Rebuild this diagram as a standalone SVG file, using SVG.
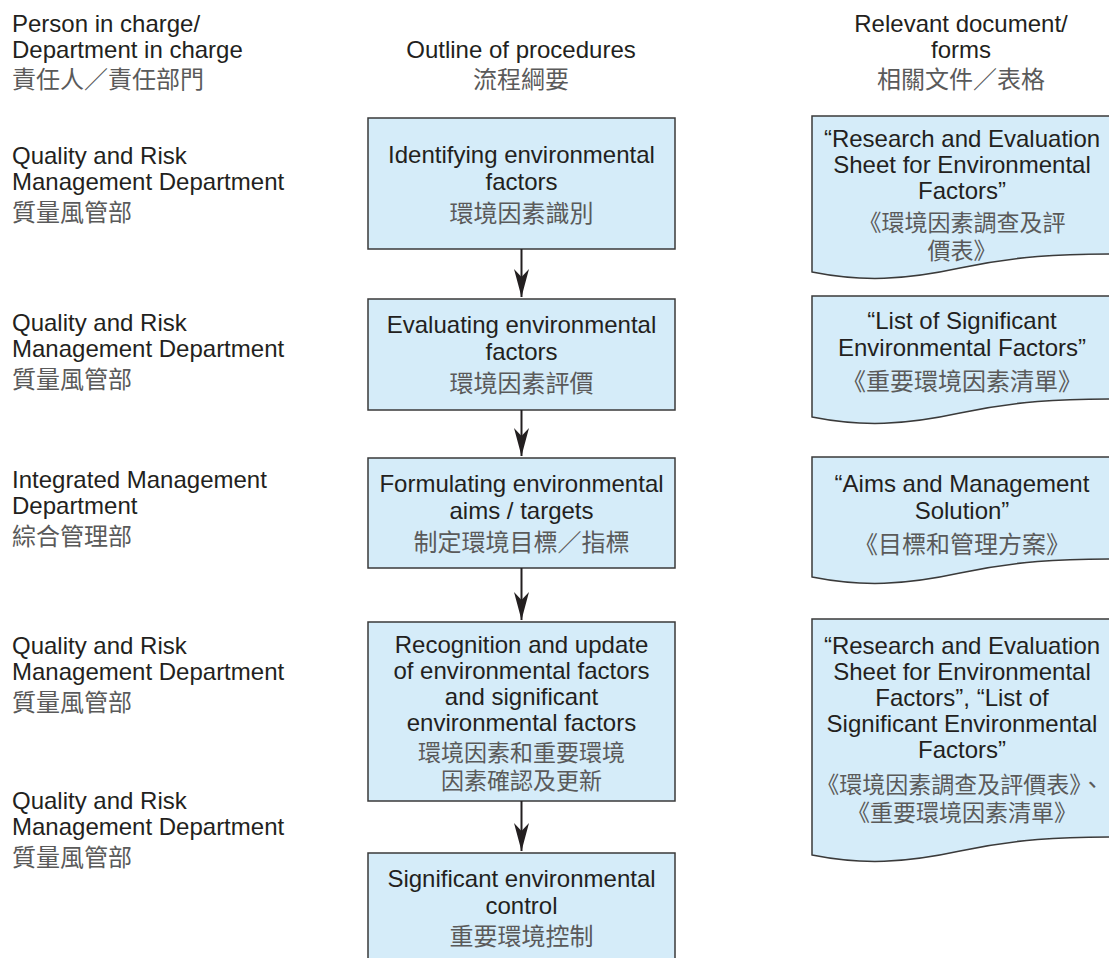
<svg xmlns="http://www.w3.org/2000/svg" width="1109" height="958" viewBox="0 0 1109 958">
  <style>
    .en { font-family: "Liberation Sans", Arial, sans-serif; font-size: 24px; fill: #231f20; }
    .zh { font-family: "Noto Sans CJK TC", "Noto Sans CJK SC", sans-serif; font-size: 24px; fill: #5a5a5a; }
    .zs { font-size: 23px; }
    .mid { text-anchor: middle; }
    .box { fill: #d5ecf9; stroke: #3a3a3a; stroke-width: 1.5; }
    .doc { fill: #d5ecf9; stroke: #3a3a3a; stroke-width: 1.5; }
    .flow { stroke: #231f20; stroke-width: 2; fill: none; marker-end: url(#arrow); }
  </style>
  <defs>
    <marker id="arrow" markerUnits="userSpaceOnUse" markerWidth="32" markerHeight="20" viewBox="-30 -10 32 20" refX="0" refY="0" orient="auto">
      <path d="M0,0 L-28,-7.5 L-20,0 L-28,7.5 Z" fill="#231f20"/>
    </marker>
  </defs>
  <rect width="1109" height="958" fill="#ffffff"/>

  <!-- column headings -->
  <g id="head-person">
    <text class="en" x="12" y="32">Person in charge/</text>
    <text class="en" x="12" y="58">Department in charge</text>
    <text class="zh" x="12" y="88">責任人／責任部門</text>
  </g>
  <g id="head-outline">
    <text class="en mid" x="521" y="58">Outline of procedures</text>
    <text class="zh mid" x="521" y="88">流程綱要</text>
  </g>
  <g id="head-docs">
    <text class="en mid" x="961" y="32">Relevant document/</text>
    <text class="en mid" x="961" y="58">forms</text>
    <text class="zh mid" x="961" y="88">相關文件／表格</text>
  </g>

  <!-- departments in charge -->
  <g id="dept-1">
    <text class="en" x="12" y="164">Quality and Risk</text>
    <text class="en" x="12" y="190">Management Department</text>
    <text class="zh" x="12" y="221">質量風管部</text>
  </g>
  <g id="dept-2">
    <text class="en" x="12" y="331">Quality and Risk</text>
    <text class="en" x="12" y="357">Management Department</text>
    <text class="zh" x="12" y="388">質量風管部</text>
  </g>
  <g id="dept-3">
    <text class="en" x="12" y="488">Integrated Management</text>
    <text class="en" x="12" y="514">Department</text>
    <text class="zh" x="12" y="545">綜合管理部</text>
  </g>
  <g id="dept-4">
    <text class="en" x="12" y="654">Quality and Risk</text>
    <text class="en" x="12" y="680">Management Department</text>
    <text class="zh" x="12" y="711">質量風管部</text>
  </g>
  <g id="dept-5">
    <text class="en" x="12" y="809">Quality and Risk</text>
    <text class="en" x="12" y="835">Management Department</text>
    <text class="zh" x="12" y="866">質量風管部</text>
  </g>

  <!-- procedure steps -->
  <g id="step-1">
    <rect class="box" x="368" y="118" width="307" height="131"/>
    <text class="en mid" x="521.5" y="163">Identifying environmental</text>
    <text class="en mid" x="521.5" y="190">factors</text>
    <text class="zh mid" x="521.5" y="222">環境因素識別</text>
  </g>
  <g id="step-2">
    <rect class="box" x="368" y="299" width="307" height="111"/>
    <text class="en mid" x="521.5" y="333">Evaluating environmental</text>
    <text class="en mid" x="521.5" y="360">factors</text>
    <text class="zh mid" x="521.5" y="392">環境因素評價</text>
  </g>
  <g id="step-3">
    <rect class="box" x="368" y="458" width="307" height="110"/>
    <text class="en mid" x="521.5" y="492">Formulating environmental</text>
    <text class="en mid" x="521.5" y="519">aims / targets</text>
    <text class="zh mid" x="521.5" y="551">制定環境目標／指標</text>
  </g>
  <g id="step-4">
    <rect class="box" x="368" y="622" width="307" height="179"/>
    <text class="en mid" x="521.5" y="653">Recognition and update</text>
    <text class="en mid" x="521.5" y="679">of environmental factors</text>
    <text class="en mid" x="521.5" y="705">and significant</text>
    <text class="en mid" x="521.5" y="731">environmental factors</text>
    <text class="zh zs mid" x="521.5" y="761">環境因素和重要環境</text>
    <text class="zh zs mid" x="521.5" y="789">因素確認及更新</text>
  </g>
  <g id="step-5">
    <rect class="box" x="368" y="853" width="307" height="120"/>
    <text class="en mid" x="521.5" y="887">Significant environmental</text>
    <text class="en mid" x="521.5" y="914">control</text>
    <text class="zh mid" x="521.5" y="945">重要環境控制</text>
  </g>

  <!-- related documents -->
  <g id="doc-1">
    <path class="doc" d="M812,116 H1115 V254 C1060,254 1015,256 960,268 C905,280 862,282 812,272 Z"/>
    <text class="en mid" x="962" y="147">“Research and Evaluation</text>
    <text class="en mid" x="962" y="173">Sheet for Environmental</text>
    <text class="en mid" x="962" y="199">Factors”</text>
    <text class="zh zs mid" x="962" y="231">《環境因素調查及評</text>
    <text class="zh zs mid" x="962" y="259">價表》</text>
  </g>
  <g id="doc-2">
    <path class="doc" d="M812,296 H1115 V399 C1060,399 1015,401 960,413 C905,425 862,427 812,417 Z"/>
    <text class="en mid" x="962" y="329">“List of Significant</text>
    <text class="en mid" x="962" y="356">Environmental Factors”</text>
    <text class="zh mid" x="962" y="390">《重要環境因素清單》</text>
  </g>
  <g id="doc-3">
    <path class="doc" d="M812,457 H1115 V559 C1060,559 1015,561 960,573 C905,585 862,587 812,577 Z"/>
    <text class="en mid" x="962" y="492">“Aims and Management</text>
    <text class="en mid" x="962" y="519">Solution”</text>
    <text class="zh mid" x="962" y="553">《目標和管理方案》</text>
  </g>
  <g id="doc-4">
    <path class="doc" d="M812,619 H1115 V837 C1060,837 1015,839 960,851 C905,863 862,865 812,855 Z"/>
    <text class="en mid" x="962" y="654">“Research and Evaluation</text>
    <text class="en mid" x="962" y="680">Sheet for Environmental</text>
    <text class="en mid" x="962" y="706">Factors”, “List of</text>
    <text class="en mid" x="962" y="732">Significant Environmental</text>
    <text class="en mid" x="962" y="758">Factors”</text>
    <text class="zh zs mid" x="960" y="793">《環境因素調查及評價表》、</text>
    <text class="zh zs mid" x="962" y="821">《重要環境因素清單》</text>
  </g>

  <!-- flow connectors -->
  <g id="connectors">
    <line class="flow" x1="521.5" y1="249" x2="521.5" y2="297"/>
    <line class="flow" x1="521.5" y1="410" x2="521.5" y2="456"/>
    <line class="flow" x1="521.5" y1="568" x2="521.5" y2="620"/>
    <line class="flow" x1="521.5" y1="801" x2="521.5" y2="851"/>
  </g>
</svg>
